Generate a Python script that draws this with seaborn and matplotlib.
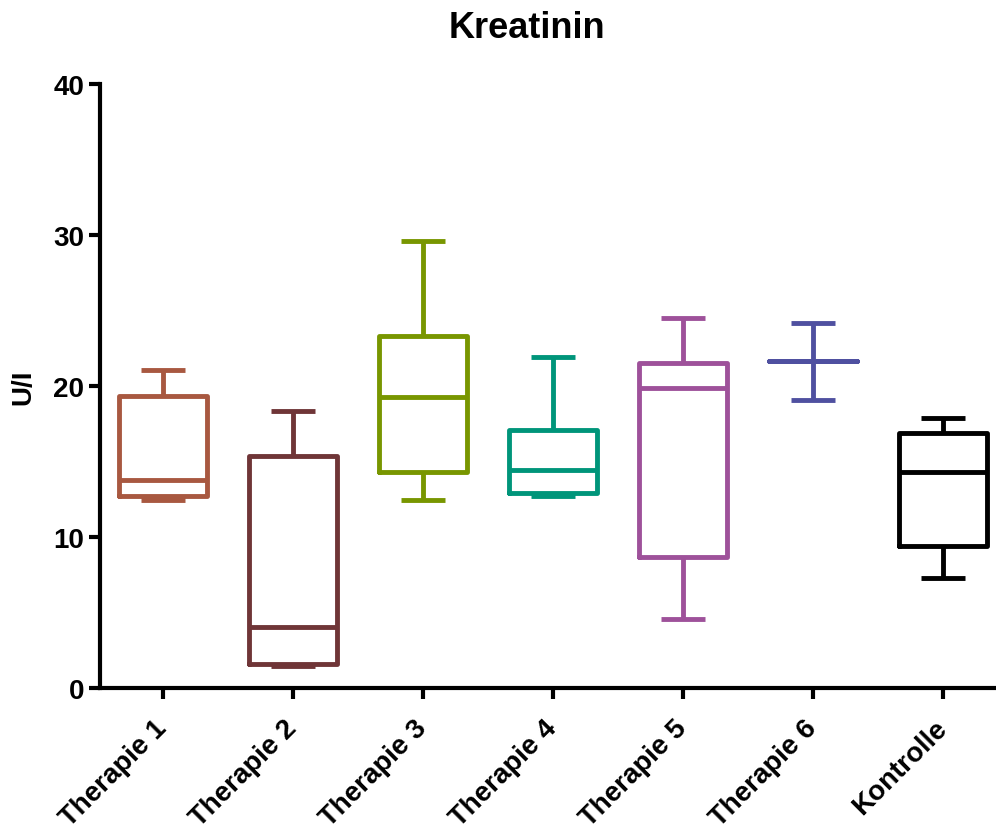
import pandas as pd
import matplotlib
matplotlib.use("Agg")
import matplotlib.pyplot as plt
import seaborn as sns

# five-number summaries: min, Q1, median, Q3, max
groups = ["Therapie 1", "Therapie 2", "Therapie 3", "Therapie 4",
          "Therapie 5", "Therapie 6", "Kontrolle"]
therapie1 = [12.45, 12.7, 13.77, 19.36, 21.08]
therapie2 = [1.43, 1.57, 4.06, 15.38, 18.34]
therapie3 = [12.47, 14.32, 19.29, 23.29, 29.58]
therapie4 = [12.74, 12.91, 14.46, 17.06, 21.9]
therapie5 = [4.57, 8.65, 19.87, 21.5, 24.5]
therapie6 = [19.07, 21.63, 21.63, 21.63, 24.17]
kontrolle = [7.26, 9.38, 14.28, 16.87, 17.88]
colors = ["#A85840", "#6F3537", "#789600", "#00957A",
          "#9E519A", "#4F50A0", "#000000"]

values = [therapie1, therapie2, therapie3, therapie4, therapie5, therapie6, kontrolle]
df = pd.DataFrame({
    "Gruppe": [g for g, v in zip(groups, values) for _ in v],
    "Wert": [x for v in values for x in v],
})

sns.set_style("ticks")
plt.rcParams['font.family'] = ['Liberation Sans', 'DejaVu Sans']
plt.rcParams.update({"text.color": "black", "axes.labelcolor": "black",
                     "xtick.color": "black", "ytick.color": "black",
                     "axes.edgecolor": "black"})

fig = plt.figure(figsize=(9.96, 8.29), dpi=100)
ax = fig.add_axes([0.1004, 0.1689, 0.8986, 0.7286])

lw = 3.5
sns.boxplot(data=df, x="Gruppe", y="Wert", hue="Gruppe", order=groups,
            palette=colors, fill=False, whis=(0, 100), width=0.67,
            linewidth=lw, legend=False, ax=ax,
            medianprops={"linewidth": lw, "solid_capstyle": "butt"},
            capprops={"linewidth": lw, "solid_capstyle": "butt"},
            whiskerprops={"linewidth": lw, "solid_capstyle": "butt"},
            boxprops={"linewidth": lw, "solid_joinstyle": "round"})

ax.set_ylim(0, 40)
ax.set_xlim(-0.485, 6.4)
ax.set_yticks([0, 10, 20, 30, 40])
fig.text(527 / 996, 1 - 28 / 829, "Kreatinin", fontsize=26, fontweight="bold",
         ha="center", va="center")
ax.set_ylabel("U/I", fontsize=20, fontweight="bold", labelpad=12)
ax.set_xlabel("")

sns.despine(ax=ax)
for s in ["left", "bottom"]:
    ax.spines[s].set_linewidth(3)
ax.tick_params(axis="both", width=3, length=8, labelsize=20)
for lab in ax.get_yticklabels():
    lab.set_fontweight("bold")
ax.set_xticks(range(len(groups)))
ax.set_xticklabels(groups, rotation=45, ha="right", va="center",
                   rotation_mode="anchor", fontweight="bold", fontsize=20)
ax.tick_params(axis="x", pad=18)

fig.savefig("out.png", dpi=100)
